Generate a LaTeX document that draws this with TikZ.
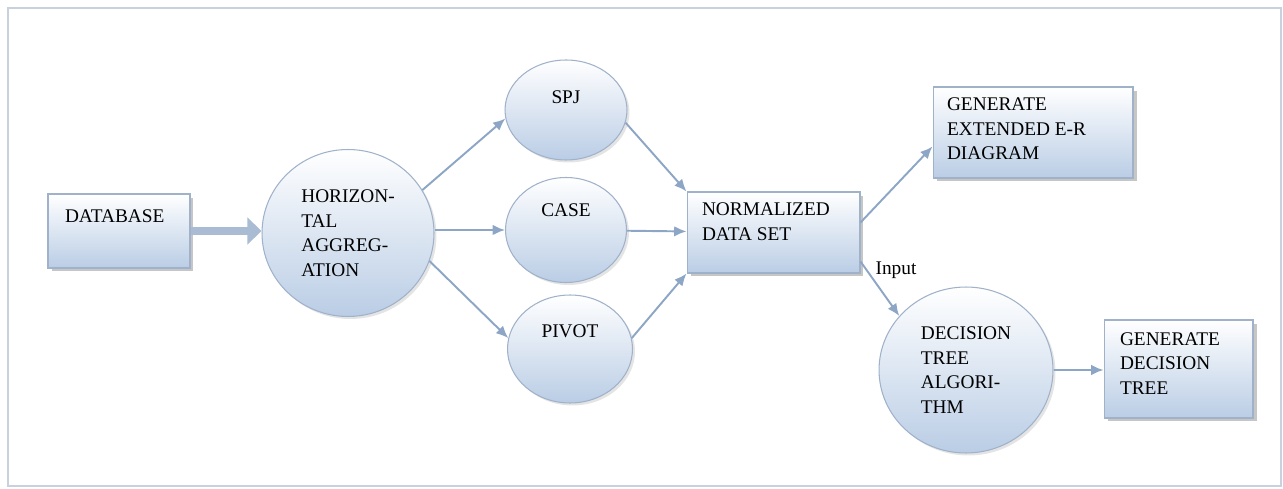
\documentclass[tikz,border=0pt]{standalone}
\usepackage{fontspec}
\setmainfont{Liberation Serif}
\usetikzlibrary{arrows.meta,shapes.geometric,shadows}

\definecolor{boxblue}{RGB}{186,205,229}
\definecolor{boxline}{RGB}{160,178,202}
\definecolor{arrowblue}{RGB}{141,166,198}
\definecolor{framecol}{RGB}{200,210,222}

% text placed from the top left corner of a box
\newcommand{\boxlines}[3]{\parbox[c][#2][t]{#1}{\raggedright #3}}

\tikzset{
  procbox/.style={rectangle, draw=boxline, line width=0.6pt, top color=white, bottom color=boxblue,
    drop shadow={shadow xshift=0.07cm, shadow yshift=-0.07cm, fill=black!50, opacity=0.45},
    inner sep=0pt, font=\fontsize{11}{14}\selectfont},
  procball/.style={ellipse, draw=boxline, line width=0.6pt, top color=white, bottom color=boxblue,
    drop shadow={shadow xshift=0.05cm, shadow yshift=-0.05cm, fill=black!30, opacity=0.35},
    inner sep=0pt, align=left, font=\fontsize{11}{14}\selectfont},
  lifted/.style={text height=0.3cm, text depth=#1},
  flow/.style={draw=arrowblue, line width=1.1pt, -{Latex[length=7pt,width=6pt]}},
  bigflow/.style={draw=arrowblue!75, line width=5pt, -{Triangle[length=8pt,width=15pt]}},
}

\begin{document}
\begin{tikzpicture}[x=0.02cm,y=-0.02cm]
  \useasboundingbox (0,0) rectangle (1283,489);
  \draw[framecol, line width=1.4pt] (8,8) rectangle (1281,486);

  % boxes and circles
  \node[procbox, minimum width=2.84cm, minimum height=1.48cm] (db) at (119,231)
    {\boxlines{2.16cm}{0.84cm}{DATABASE}};
  \node[procball, minimum width=3.44cm, minimum height=3.34cm] (hagg) at (348,233)
    {HORIZON-\\TAL\\AGGREG-\\ATION};
  \node[procball, lifted=0.54cm, minimum width=2.44cm, minimum height=2.0cm] (spj) at (566,110) {SPJ};
  \node[procball, lifted=0.86cm, minimum width=2.42cm, minimum height=2.1cm] (case) at (566,230) {CASE};
  \node[procball, lifted=0.78cm, minimum width=2.5cm, minimum height=2.16cm] (pivot) at (570,349) {PIVOT};
  \node[procbox, minimum width=3.46cm, minimum height=1.62cm] (nds) at (773.5,232.5)
    {\boxlines{2.86cm}{1.18cm}{NORMALIZED\\DATA SET}};
  \node[procbox, minimum width=4.0cm, minimum height=1.82cm] (ger) at (1033,132.5)
    {\boxlines{3.44cm}{1.38cm}{GENERATE\\EXTENDED E-R\\DIAGRAM}};
  \node[procball, minimum width=3.48cm, minimum height=3.32cm] (dta) at (966,370)
    {DECISION\\TREE\\ALGORI-\\THM};
  \node[procbox, minimum width=2.98cm, minimum height=1.96cm] (gdt) at (1178.5,369)
    {\boxlines{2.34cm}{1.46cm}{GENERATE\\DECISION\\TREE}};

  % connectors
  \draw[bigflow] (db.east) -- (db.east -| hagg.west);
  \draw[flow] (hagg.30) -- (spj.188);
  \draw[flow] (case.west -| hagg.east) -- (case.west);
  \draw[flow] (hagg.-19) -- (pivot.170);
  \draw[flow] (spj.-12) -- (nds.north west);
  \draw[flow] (case) -- (nds);
  \draw[flow] (pivot.10) -- (nds.south west);
  \draw[flow] ([yshift=0.2cm]nds.east) -- ([yshift=-0.28cm]ger.west);
  \draw[flow] ([yshift=-0.58cm]nds.east) -- (dta.141);
  \draw[flow] (dta.east) -- (dta.east -| gdt.west);

  \node[font=\fontsize{11}{14}\selectfont] (inlab) at (896,270) {Input};
\end{tikzpicture}
\end{document}
